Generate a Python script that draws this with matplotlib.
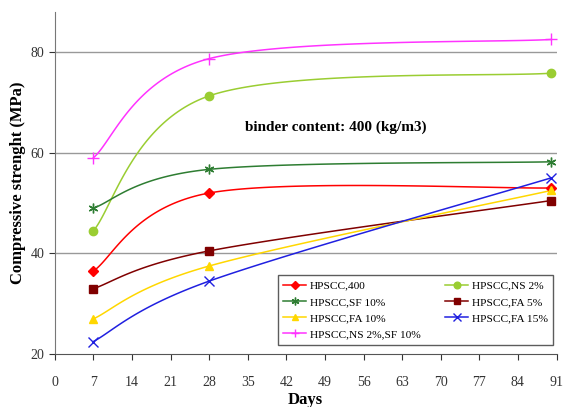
import numpy as np
import matplotlib
matplotlib.use("Agg")
import matplotlib.pyplot as plt
from matplotlib.lines import Line2D

plt.rcParams['font.family'] = ['Liberation Serif', 'DejaVu Serif']

days = [7, 28, 90]
series_names = ["HPSCC,400", "HPSCC,NS 2%", "HPSCC,SF 10%", "HPSCC,FA 5%",
                "HPSCC,FA 10%", "HPSCC,FA 15%", "HPSCC,NS 2%,SF 10%"]
hpscc_400 = [36.5, 52.0, 53.0]
hpscc_ns2 = [44.5, 71.3, 75.8]
hpscc_sf10 = [49.0, 56.7, 58.2]
hpscc_fa5 = [33.0, 40.5, 50.5]
hpscc_fa10 = [27.0, 37.5, 52.5]
hpscc_fa15 = [22.5, 34.5, 55.0]
hpscc_ns2_sf10 = [59.0, 78.7, 82.5]
xticks = [0, 7, 14, 21, 28, 35, 42, 49, 56, 63, 70, 77, 84, 91]
yticks = [20, 40, 60, 80]

values = [hpscc_400, hpscc_ns2, hpscc_sf10, hpscc_fa5, hpscc_fa10, hpscc_fa15, hpscc_ns2_sf10]
colors = ["#ff0000", "#9acd32", "#2e7d32", "#800000", "#ffd700", "#2020e0", "#ff33ff"]
markers = ["D", "o", (6, 2, 0), "s", "^", "x", "+"]
msizes = [5, 6, 7, 6, 6, 7, 8]


def smooth(x, y, n=60, tension=1/6):
    # Bezier smoothing similar to spreadsheet smoothed lines
    x = np.asarray(x, float); y = np.asarray(y, float)
    pts = np.column_stack([x, y])
    out = []
    for i in range(len(pts) - 1):
        p0 = pts[i - 1] if i > 0 else pts[i]
        p1 = pts[i]; p2 = pts[i + 1]
        p3 = pts[i + 2] if i + 2 < len(pts) else pts[i + 1]
        c1 = p1 + (p2 - p0) * tension
        c2 = p2 - (p3 - p1) * tension
        t = np.linspace(0, 1, n)[:, None]
        seg = ((1 - t) ** 3) * p1 + 3 * ((1 - t) ** 2) * t * c1 + 3 * (1 - t) * t ** 2 * c2 + t ** 3 * p2
        out.append(seg if i == 0 else seg[1:])
    s = np.vstack(out)
    return s[:, 0], s[:, 1]


fig = plt.figure(figsize=(5.65, 4.07), dpi=100)
ax = fig.add_axes([0.097, 0.130, 0.888, 0.841])

handles = []
for name, v, c, m, ms in zip(series_names, values, colors, markers, msizes):
    sx, sy = smooth(days, v)
    ax.plot(sx, sy, color=c, lw=1.1, zorder=3)
    ax.plot(days, v, linestyle='none', marker=m, color=c, markersize=ms,
            markeredgewidth=1.0, zorder=4)
    handles.append(Line2D([0], [0], color=c, lw=1.1, marker=m, markersize=ms * 0.8))

ax.set_xlim(0, 91)
ax.set_ylim(20, 88)
ax.set_xticks(xticks)
ax.set_yticks(yticks)
ax.tick_params(axis='both', labelsize=10, colors='#333333', length=4, width=0.8)
ax.tick_params(axis='x', pad=12)
for t in ax.get_xticklabels() + ax.get_yticklabels():
    t.set_color('#333333')
for yv in [40, 60, 80]:
    ax.axhline(yv, color='#999999', lw=1.0, zorder=1)
ax.spines['top'].set_visible(False)
ax.spines['right'].set_visible(False)
ax.spines['left'].set_color('#777777')
ax.spines['bottom'].set_color('#555555')

ax.set_xlabel("Days", fontsize=12, fontweight='bold', labelpad=2)
ax.set_ylabel("Compressive strenght (MPa)", fontsize=12, fontweight='bold', labelpad=3)

ax.text(51, 65, "binder content: 400 (kg/m3)", fontsize=11, fontweight='bold',
        ha='center', va='center')

order = [0, 2, 4, 6, 1, 3, 5]
leg = ax.legend([handles[i] for i in order], [series_names[i] for i in order],
                ncol=2, loc='lower right', bbox_to_anchor=(1.005, 0.01),
                fontsize=8.2, frameon=True, fancybox=False, edgecolor='#333333',
                handlelength=2.0, labelspacing=0.55, columnspacing=2.2,
                borderpad=0.5, handletextpad=0.3)
leg.get_frame().set_linewidth(1.0)

fig.savefig("out.png", dpi=100)
